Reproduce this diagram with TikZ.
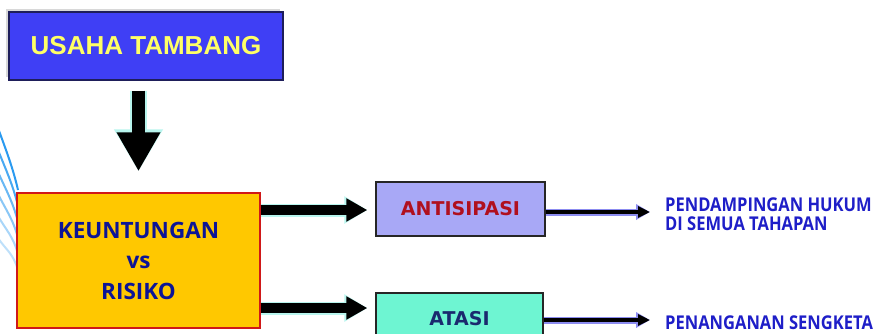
\documentclass[tikz,border=0pt]{standalone}
\usepackage{fontspec}
\usetikzlibrary{arrows.meta,positioning,shadows,calc}
\setmainfont{Open Sans}
\newfontfamily\resultfont{Open Sans}[FakeStretch=0.87]
\newfontfamily\headfont{Liberation Sans}
\newfontfamily\blackfont{DejaVu Sans}
\definecolor{usahabg}{HTML}{3F3FF5}
\definecolor{usahaborder}{HTML}{1E1E5A}
\definecolor{usahatext}{HTML}{FFFF66}
\definecolor{keubg}{HTML}{FFC800}
\definecolor{keuborder}{HTML}{D01818}
\definecolor{keutext}{HTML}{0C1496}
\definecolor{antibg}{HTML}{A8A8F6}
\definecolor{antitext}{HTML}{B0101E}
\definecolor{atasibg}{HTML}{6EF5D2}
\definecolor{atasitext}{HTML}{1A2A6E}
\definecolor{resulttext}{HTML}{1E1EC8}
\definecolor{glowcyan}{HTML}{B8F5EE}
\definecolor{glowblue}{HTML}{8C8CF0}
\definecolor{arcblue}{HTML}{2A9AF0}

\begin{document}
\begin{tikzpicture}[
    x=1pt, y=-1pt,
    box/.style={
        rectangle, line width=1.4pt, inner sep=0pt, align=center
    },
    bigarrow/.style={
        -{Triangle[length=39pt, width=41pt]}, line width=13.5pt, draw=black,
        preaction={draw=glowcyan, line width=17pt, -{Triangle[length=42pt, width=46pt]}}
    },
    sidearrow/.style={
        -{Triangle[length=21pt, width=22pt]}, line width=10pt, draw=black,
        preaction={draw=glowcyan, line width=13pt, -{Triangle[length=23pt, width=26pt]}}
    },
    thinarrow/.style={
        -{Triangle[length=12pt, width=11pt]}, line width=4pt, draw=black,
        preaction={draw=glowblue, line width=7pt, -{Triangle[length=14pt, width=15pt]}}
    },
    result/.style={
        anchor=west, inner sep=0pt, align=left, text=resulttext,
        font=\resultfont\fontsize{19pt}{19pt}\selectfont\bfseries
    }
]

\useasboundingbox (0,0) rectangle (877,333);
\clip (0,0) rectangle (877,333);
\fill[white] (0,0) rectangle (877,333);

% ==================== LEFT ARCS ====================
\foreach \i/\op in {0/1.0,1/0.85,2/0.7,3/0.55,4/0.4,5/0.3}
    \draw[arcblue, line width=2pt, opacity=\op]
        (-2,{128+22*\i}) .. controls (6,{150+20*\i}) and (13,{168+17*\i}) .. (18,{190+16*\i});

% ==================== USAHA TAMBANG ====================
\node[box, fill=usahabg, draw=usahaborder, minimum width=274pt, minimum height=68pt,
      drop shadow={shadow xshift=-3pt, shadow yshift=3pt, fill=black!30}] (usaha) at (146,46)
    {\headfont\bfseries\fontsize{26pt}{26pt}\selectfont\color{usahatext}USAHA TAMBANG};

% ==================== KEUNTUNGAN vs RISIKO ====================
\node[box, fill=keubg, draw=keuborder, minimum width=243pt, minimum height=135pt,
      font=\fontsize{22.5pt}{30.5pt}\selectfont\bfseries, text=keutext] (keu) at (138.5,260.5)
    {KEUNTUNGAN\\vs\\RISIKO};

% ==================== ANTISIPASI / ATASI ====================
\node[box, fill=antibg, draw=black!85, minimum width=169pt, minimum height=54pt,
      font=\blackfont\bfseries\fontsize{19pt}{19pt}\selectfont, text=antitext] (anti) at (460.5,209)
    {ANTISIPASI};
\node[box, fill=atasibg, draw=black!85, minimum width=167pt, minimum height=54pt,
      font=\blackfont\bfseries\fontsize{19pt}{19pt}\selectfont, text=atasitext] (atasi) at (459.5,320)
    {\raisebox{3pt}{ATASI}};

% ==================== RESULTS ====================
\node[result] (hukum) at (665,214) {PENDAMPINGAN HUKUM\\DI SEMUA TAHAPAN};
\node[result] (sengketa) at (665,322.5) {PENANGANAN SENGKETA};

% ==================== ARROWS ====================
\draw[bigarrow] ([yshift=-10pt]usaha.south -| keu.north) -- ([yshift=21pt]keu.north);

\coordinate (a1) at ([yshift=-1pt]anti.west);
\coordinate (a2) at ([yshift=12pt]atasi.west);
\draw[sidearrow] (a1 -| keu.east) -- ([xshift=-8pt]a1);
\draw[sidearrow] (a2 -| keu.east) -- ([xshift=-8pt]a2);

\draw[thinarrow] ([yshift=-3pt]anti.east) -- ([xshift=-15pt,yshift=-3pt]anti.east -| hukum.west);
\draw[thinarrow] (atasi.east) -- ([xshift=-15pt]atasi.east -| sengketa.west);

\end{tikzpicture}
\end{document}
